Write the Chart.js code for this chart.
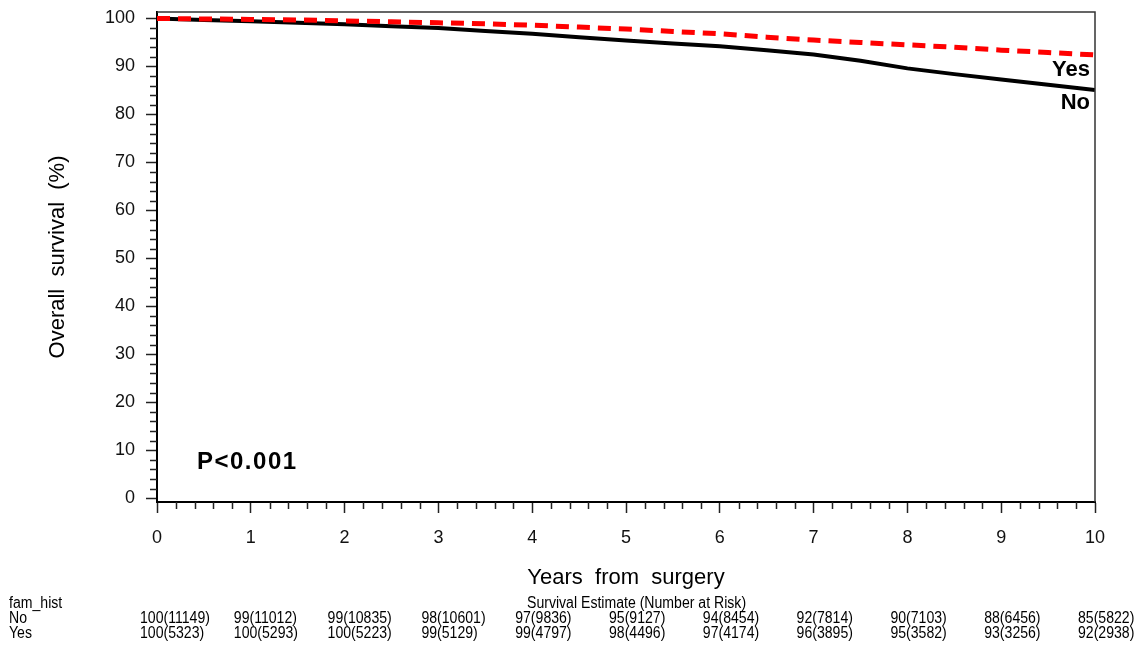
<!DOCTYPE html>
<html>
<head>
<meta charset="utf-8">
<script src="https://cdn.jsdelivr.net/npm/chart.js@4.4.1/dist/chart.umd.min.js"></script>
<style>
  html, body { margin: 0; padding: 0; background: #fff; }
  #wrap { width: 1146px; height: 648px; position: relative; }
</style>
</head>
<body>
<div id="wrap"><canvas id="c" width="1146" height="648"></canvas></div>
<script>
// ---- data ----
const years = [0, 0.5, 1, 1.5, 2, 2.5, 3, 3.5, 4, 4.5, 5, 5.5, 6, 6.5, 7, 7.5, 8, 8.5, 9, 9.5, 10];
const survivalNo  = [100, 99.7, 99.4, 99.1, 98.8, 98.4, 98.0, 97.4, 96.8, 96.1, 95.4, 94.8, 94.2, 93.4, 92.5, 91.2, 89.6, 88.4, 87.3, 86.2, 85.1];
const survivalYes = [100, 99.9, 99.8, 99.7, 99.5, 99.3, 99.1, 98.9, 98.6, 98.2, 97.8, 97.3, 96.8, 96.1, 95.5, 95.0, 94.5, 94.0, 93.4, 92.9, 92.4];

const xTickLabels = ['0','1','2','3','4','5','6','7','8','9','10'];
const yTickValues = [0, 10, 20, 30, 40, 50, 60, 70, 80, 90, 100];

const tableGroupLabel = 'fam_hist';
const tableTitle = 'Survival Estimate (Number at Risk)';
const tableRowNames = ['No', 'Yes'];
const tableNo  = ['100(11149)','99(11012)','99(10835)','98(10601)','97(9836)','95(9127)','94(8454)','92(7814)','90(7103)','88(6456)','85(5822)'];
const tableYes = ['100(5323)','100(5293)','100(5223)','99(5129)','99(4797)','98(4496)','97(4174)','96(3895)','95(3582)','93(3256)','92(2938)'];

const pValueText = 'P<0.001';
const curveLabels = ['Yes', 'No'];
const xTitle = 'Years  from  surgery';
const yTitle = 'Overall  survival  (%)';

const FONT = '"Liberation Sans", Arial, sans-serif';

function narrowText(ctx, text, x, y, sx) {
  ctx.save();
  ctx.translate(x, y);
  ctx.scale(sx, 1);
  ctx.fillText(text, 0, 0);
  ctx.restore();
}

const decor = {
  id: 'decor',
  afterDraw(chart) {
    const ctx = chart.ctx;
    const a = chart.chartArea;
    const xs = chart.scales.x, ys = chart.scales.y;
    ctx.save();
    // frame top & right
    ctx.strokeStyle = '#333';
    ctx.lineWidth = 1.5;
    ctx.beginPath();
    ctx.moveTo(a.left, a.top); ctx.lineTo(a.right, a.top); ctx.lineTo(a.right, a.bottom);
    ctx.stroke();
    // minor ticks
    ctx.strokeStyle = '#222';
    ctx.lineWidth = 1.5;
    ctx.beginPath();
    for (let v = 0; v <= 100; v += 2) {
      if (v % 10 === 0) continue;
      const y = Math.round(ys.getPixelForValue(v)) + 0.5;
      ctx.moveTo(a.left - 7, y); ctx.lineTo(a.left, y);
    }
    for (let i = 0; i <= 50; i++) {
      if (i % 5 === 0) continue;
      const x = Math.round(xs.getPixelForValue(i / 5)) + 0.5;
      ctx.moveTo(x, a.bottom); ctx.lineTo(x, a.bottom + 7);
    }
    ctx.stroke();

    ctx.fillStyle = '#000';
    // axis titles
    ctx.font = '22px ' + FONT;
    ctx.textAlign = 'center';
    ctx.textBaseline = 'middle';
    ctx.fillText(xTitle, xs.getPixelForValue(5), 578);
    ctx.save();
    ctx.translate(58, 257);
    ctx.rotate(-Math.PI / 2);
    ctx.fillText(yTitle, 0, 0);
    ctx.restore();

    // p value
    ctx.font = 'bold 24px ' + FONT;
    ctx.textAlign = 'left';
    ctx.letterSpacing = '1.5px';
    ctx.fillText(pValueText, 197, 462);
    ctx.letterSpacing = '0px';

    // curve labels
    ctx.font = 'bold 22px ' + FONT;
    ctx.textAlign = 'right';
    ctx.fillText(curveLabels[0], 1090, 70);
    ctx.fillText(curveLabels[1], 1090, 103);

    // risk table
    ctx.font = '16px ' + FONT;
    ctx.textAlign = 'left';
    const sx = 0.88;
    narrowText(ctx, tableGroupLabel, 9, 604, sx);
    narrowText(ctx, tableTitle, 527, 604, sx);
    narrowText(ctx, tableRowNames[0], 9, 619, sx);
    narrowText(ctx, tableRowNames[1], 9, 634, sx);
    for (let i = 0; i < tableNo.length; i++) {
      const x = xs.getPixelForValue(i) - 17;
      narrowText(ctx, tableNo[i], x, 619, sx);
      narrowText(ctx, tableYes[i], x, 634, sx);
    }
    ctx.restore();
  }
};

new Chart(document.getElementById('c'), {
  type: 'line',
  data: {
    datasets: [
      {
        label: 'Yes',
        data: years.map((x, i) => ({ x, y: survivalYes[i] })),
        borderColor: '#ff0000',
        borderWidth: 5,
        borderDash: [13, 8],
        pointRadius: 0,
        tension: 0,
        order: 0
      },
      {
        label: 'No',
        data: years.map((x, i) => ({ x, y: survivalNo[i] })),
        borderColor: '#000000',
        borderWidth: 4,
        pointRadius: 0,
        tension: 0,
        order: 1
      }
    ]
  },
  options: {
    responsive: false,
    animation: false,
    layout: { padding: { left: 0, top: 12, right: 51, bottom: 0 } },
    plugins: { legend: { display: false }, tooltip: { enabled: false }, title: { display: false } },
    scales: {
      x: {
        type: 'linear',
        min: 0, max: 10,
        afterFit(s) { s.height = 146; s.paddingLeft = 0; s.paddingRight = 0; },
        afterBuildTicks(s) { s.ticks = xTickLabels.map(t => ({ value: Number(t) })); },
        ticks: {
          callback: (v) => xTickLabels[Math.round(v)],
          font: { size: 18, family: FONT },
          color: '#111',
          padding: 14,
          maxRotation: 0
        },
        grid: { drawOnChartArea: false, drawTicks: true, tickLength: 11, tickColor: '#222', tickWidth: 1.5 },
        border: { display: true, color: '#000', width: 2 }
      },
      y: {
        type: 'linear',
        min: -0.8, max: 101.35,
        afterFit(s) { s.width = 157; s.paddingTop = 0; s.paddingBottom = 0; },
        afterBuildTicks(s) { s.ticks = yTickValues.map(v => ({ value: v })); },
        ticks: {
          font: { size: 18, family: FONT },
          color: '#111',
          padding: 11
        },
        grid: { drawOnChartArea: false, drawTicks: true, tickLength: 11, tickColor: '#222', tickWidth: 1.5 },
        border: { display: true, color: '#000', width: 2 }
      }
    }
  },
  plugins: [decor]
});
</script>
</body>
</html>
